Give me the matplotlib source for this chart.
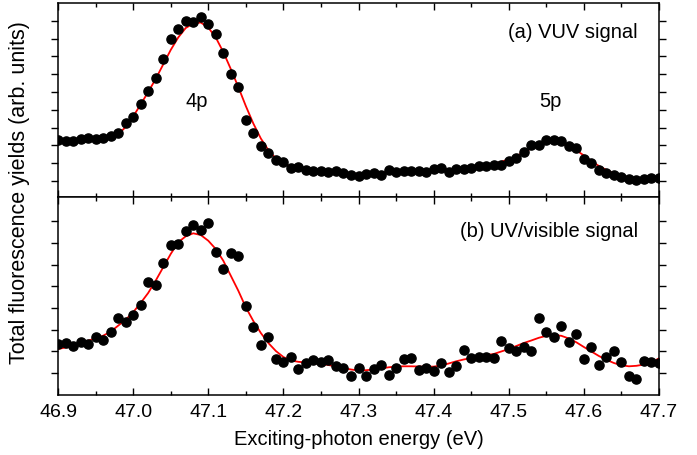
import numpy as np
import matplotlib
matplotlib.use("Agg")
import matplotlib.pyplot as plt
from matplotlib.ticker import MultipleLocator

plt.rcParams['font.family'] = ['Liberation Sans', 'DejaVu Sans']

# ── Data (arbitrary units) ───────────────────────────────────────────────────
# photon energy grid: 81 points, 46.90 ... 47.70 eV in 0.01 eV steps
energy = np.linspace(46.90, 47.70, 81)

vuv_signal = [
    59.3, 58.3, 58.3, 60.0, 60.7, 60.0, 60.7, 62.7, 66.0, 75.7,
    82.3, 95.0, 108.0, 120.7, 139.7, 160.3, 170.0, 177.7, 177.3, 181.7,
    175.0, 165.0, 145.7, 124.7, 112.0, 79.3, 66.0, 53.3, 46.0, 39.3,
    36.7, 30.7, 31.7, 29.3, 28.3, 28.3, 26.7, 28.3, 26.0, 24.0,
    22.7, 24.7, 26.0, 24.0, 29.3, 27.3, 28.0, 28.0, 27.7, 26.7,
    30.0, 31.3, 27.3, 30.0, 30.0, 30.7, 33.3, 33.3, 34.3, 34.0,
    38.3, 41.3, 47.3, 54.3, 54.0, 59.3, 59.3, 57.7, 52.7, 50.7,
    40.0, 36.0, 29.0, 25.7, 24.0, 21.7, 20.0, 19.3, 20.0, 20.7,
    21.0,
]

vuv_fit = [
    59.0, 59.0, 59.0, 59.0, 59.3, 59.7, 60.3, 61.5, 64.5, 72.0,
    82.5, 94.5, 107.0, 120.0, 134.5, 149.0, 161.5, 171.0, 175.5, 176.5,
    171.5, 161.5, 147.0, 130.0, 112.0, 93.0, 75.5, 60.5, 49.0, 40.5,
    35.5, 32.5, 30.7, 29.5, 28.5, 27.7, 27.0, 26.3, 25.7, 25.3,
    25.2, 25.3, 25.7, 26.3, 27.0, 27.5, 28.0, 28.3, 28.5, 28.8,
    29.2, 29.5, 29.8, 30.2, 30.7, 31.5, 32.5, 33.7, 35.2, 37.2,
    39.7, 43.0, 46.7, 50.5, 53.7, 56.0, 56.7, 55.7, 53.0, 48.7,
    43.5, 38.0, 33.0, 29.0, 25.7, 23.3, 21.5, 20.5, 20.0, 20.3,
    21.5,
]

uv_signal = [
    55.0, 56.0, 53.3, 56.7, 55.0, 61.7, 59.3, 67.3, 80.7, 76.7,
    84.0, 94.0, 116.7, 114.0, 136.0, 154.0, 155.0, 168.3, 174.0, 169.3,
    176.0, 146.7, 130.0, 146.0, 142.7, 92.7, 71.7, 53.7, 62.3, 40.0,
    36.7, 41.7, 30.0, 35.7, 39.0, 36.7, 39.3, 33.3, 30.7, 23.3,
    30.7, 22.7, 30.0, 34.0, 24.0, 31.0, 40.0, 41.3, 29.3, 30.7,
    28.3, 36.0, 26.7, 32.7, 49.0, 40.8, 42.5, 41.7, 40.7, 58.3,
    50.7, 47.7, 51.7, 48.3, 80.7, 66.7, 61.7, 72.7, 57.3, 65.0,
    40.0, 51.7, 34.3, 41.7, 48.0, 36.7, 22.7, 19.7, 38.3, 37.3,
    36.0,
]

uv_fit = [
    50.0, 51.5, 53.3, 55.7, 58.3, 60.7, 63.3, 67.3, 73.3, 79.3,
    86.7, 96.0, 106.0, 118.3, 131.7, 145.0, 156.7, 162.7, 165.7, 164.0,
    158.3, 150.0, 138.3, 123.3, 108.3, 91.7, 78.0, 66.0, 56.0, 48.0,
    42.0, 38.5, 37.2, 36.5, 35.8, 35.0, 34.0, 32.5, 31.0, 29.5,
    28.5, 28.8, 29.5, 30.5, 31.7, 32.4, 32.7, 32.7, 32.5, 32.2,
    32.4, 33.5, 35.5, 37.7, 39.5, 41.0, 42.5, 44.0, 45.0, 47.5,
    50.0, 53.0, 56.0, 58.5, 61.2, 63.2, 64.0, 63.2, 60.5, 56.7,
    52.0, 47.5, 43.0, 39.2, 36.0, 33.7, 32.7, 33.2, 34.5, 36.5,
    40.7,
]

panel_labels = ["(a) VUV signal", "(b) UV/visible signal"]
peak_labels = [("4p", 47.085), ("5p", 47.555)]


# ── Figure ───────────────────────────────────────────────────────────────────
W, H = 697, 456
fig = plt.figure(figsize=(W / 100, H / 100), dpi=100)
left, right = 58 / W, 659 / W

ax1 = fig.add_axes([left, 1 - 198 / H, right - left, 194 / H])
ax2 = fig.add_axes([left, 1 - 396 / H, right - left, 198 / H])

panels = [
    (ax1, vuv_signal, vuv_fit, (2, 196), np.arange(18, 190, 17.8)),
    (ax2, uv_signal, uv_fit, (4, 202), np.arange(26, 195, 21.7)),
]

for ax, sig, fit, ylim, yt in panels:
    ax.plot(energy, fit, color='red', lw=1.3, zorder=2)
    ax.plot(energy, sig, 'o', color='black', ms=6.6, mec='black', zorder=3)
    ax.set_xlim(46.9, 47.7)
    ax.set_ylim(*ylim)
    ax.set_yticks(yt)
    ax.tick_params(axis='y', which='both', direction='out', length=5,
                   width=1, left=True, right=True, labelleft=False)
    ax.xaxis.set_major_locator(MultipleLocator(0.1))
    ax.xaxis.set_minor_locator(MultipleLocator(0.05))
    ax.tick_params(axis='x', which='major', direction='in', length=5,
                   width=1, top=True, bottom=True)
    ax.tick_params(axis='x', which='minor', direction='in', length=3,
                   width=1, top=True, bottom=True)
    for s in ax.spines.values():
        s.set_linewidth(1.1)

ax1.tick_params(axis='x', labelbottom=False)
ax2.tick_params(axis='x', labelsize=14, pad=6)
ax2.set_xlabel("Exciting-photon energy (eV)", fontsize=14.5, labelpad=6)

ax1.text(0.965, 0.855, panel_labels[0], transform=ax1.transAxes,
         ha='right', va='center', fontsize=14.5)
ax2.text(0.965, 0.83, panel_labels[1], transform=ax2.transAxes,
         ha='right', va='center', fontsize=14.5)

for lbl, xpos in peak_labels:
    ax1.text(xpos, 200 - 101.7, lbl, ha='center', va='center', fontsize=14.5)

fig.text(20 / W, 1 - 193 / H, "Total fluorescence yields (arb. units)",
         rotation=90, ha='center', va='center', fontsize=15.5)

fig.savefig("out.png", dpi=100)
